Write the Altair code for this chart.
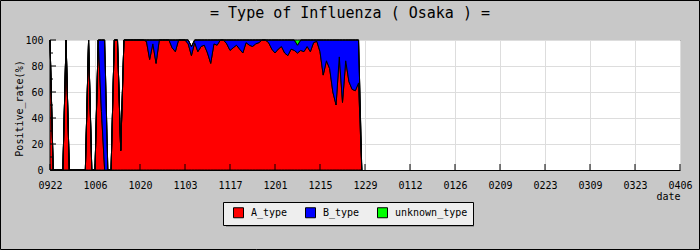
import json
import altair as alt
import pandas as pd

FONT = "DejaVu Sans Mono"

chart_title = "= Type of Influenza ( Osaka ) ="
type_names = ["A_type", "B_type", "unknown_type"]
type_colors = ["#ff0000", "#0000ff", "#00ff00"]

# x axis: day offset from 09/22, labelled every 14 days
tick_days = [0, 14, 28, 42, 56, 70, 84, 98, 112, 126, 140, 154, 168, 182, 196]
tick_labels = ["0922", "1006", "1020", "1103", "1117", "1201", "1215", "1229",
               "0112", "0126", "0209", "0223", "0309", "0323", "0406"]
y_major = [0, 20, 40, 60, 80, 100]
y_minor = [10, 30, 50, 70, 90]

# daily positive rates (%) from 09/22 to 12/28
a_type = [100, 0, 0, 0, 0, 100, 0, 0, 0, 0,
          0, 0, 100, 0, 0, 100, 45, 0, 0, 0,
          100, 100, 15, 100, 100, 100, 100, 100, 100, 100,
          99, 85, 97, 82, 100, 100, 100, 100, 94, 91,
          100, 100, 100, 97, 88, 98, 91, 95, 96, 90,
          82, 97, 96, 100, 100, 97, 92, 94, 96, 93,
          90, 98, 96, 95, 97, 98, 100, 100, 98, 93,
          90, 93, 95, 90, 88, 93, 92, 90, 92, 91,
          95, 91, 98, 99, 91, 73, 84, 78, 60, 50,
          87, 52, 84, 68, 62, 61, 67, 0]
b_type = [0, 0, 0, 0, 0, 0, 0, 0, 0, 0,
          0, 0, 0, 0, 0, 0, 55, 100, 0, 0,
          0, 0, 0, 0, 0, 0, 0, 0, 0, 0,
          1, 15, 3, 18, 0, 0, 0, 0, 6, 9,
          0, 0, 0, 3, 7, 2, 9, 5, 4, 10,
          18, 3, 4, 0, 0, 3, 8, 6, 4, 7,
          10, 2, 4, 5, 3, 2, 0, 0, 2, 7,
          10, 7, 5, 10, 12, 7, 8, 6, 8, 9,
          5, 9, 2, 1, 9, 27, 16, 22, 40, 50,
          13, 48, 16, 32, 38, 39, 33, 0]
unknown_type = [0] * 77 + [4] + [0] * 20

rows = []
for k, (name, series) in enumerate(zip(type_names, [a_type, b_type, unknown_type])):
    for d, v in enumerate(series):
        rows.append({"day": d, "type": name, "rate": v, "ord": k})
df = pd.DataFrame(rows)

x_scale = alt.Scale(domain=[tick_days[0], tick_days[-1]], nice=False, zero=False)
y_scale = alt.Scale(domain=[0, 100], nice=False)

label_expr = json.dumps(tick_labels) + "[round(datum.value / 14)]"

x_axis = alt.Axis(values=tick_days, labelExpr=label_expr, title="date",
                  ticks=False, grid=True, labelPadding=15,
                  labelBaseline="middle", labelFlush=False,
                  titleAnchor="end", titleAlign="right", titleX=630,
                  titleY=26, titleBaseline="middle")
y_axis = alt.Axis(values=y_major, title="Positive_rate(%)", ticks=False,
                  grid=True, labelPadding=7, titleX=-31, titleY=68,
                  titleAlign="center", titleBaseline="middle", labelFlush=False)

area = alt.Chart(df).mark_area(
    stroke="black", strokeWidth=1, interpolate="linear", opacity=1
).encode(
    x=alt.X("day:Q", scale=x_scale, axis=x_axis),
    y=alt.Y("rate:Q", stack="zero", scale=y_scale, axis=y_axis),
    color=alt.Color("type:N", scale=alt.Scale(domain=type_names, range=type_colors),
                    legend=alt.Legend(orient="none", legendX=173, legendY=162,
                                      direction="horizontal", title=None,
                                      symbolType="square", symbolSize=100,
                                      symbolStrokeColor="black", symbolStrokeWidth=1,
                                      symbolOpacity=1,
                                      fillColor="#eeeeee", strokeColor="black",
                                      padding=5, symbolOffset=5, labelOffset=7,
                                      columnPadding=12, labelFont=FONT,
                                      labelFontSize=10, labelColor="black")),
    order=alt.Order("ord:Q", sort="ascending"),
)

ymaj = alt.Chart(pd.DataFrame({"rate": y_major})).mark_rule(color="black").encode(
    y=alt.Y("rate:Q", scale=y_scale, axis=y_axis), x=alt.value(0), x2=alt.value(6))
ymin = alt.Chart(pd.DataFrame({"rate": y_minor})).mark_rule(color="black").encode(
    y=alt.Y("rate:Q", scale=y_scale, axis=y_axis), x=alt.value(0), x2=alt.value(3))
xmaj = alt.Chart(pd.DataFrame({"day": tick_days})).mark_rule(color="black").encode(
    x=alt.X("day:Q", scale=x_scale, axis=x_axis), y=alt.value(130), y2=alt.value(124))

one = alt.Data(values=[{"k": 1}])
shadow = alt.Chart(one).mark_rect(color="#999999").encode(
    x=alt.value(176), x2=alt.value(424), y=alt.value(165), y2=alt.value(187))
border = alt.Chart(one).mark_rect(fillOpacity=0, stroke="black", strokeWidth=1).encode(
    x=alt.value(-49.5), x2=alt.value(649.5), y=alt.value(-39.5), y2=alt.value(209.5))
title = alt.Chart(alt.Data(values=[{"t": chart_title}])).mark_text(
    font=FONT, fontSize=15, color="black", align="center", baseline="middle"
).encode(text="t:N", x=alt.value(300), y=alt.value(-27))

chart = alt.layer(shadow, area, ymaj, ymin, xmaj, border, title).properties(
    width=630, height=130,
    padding={"left": 50, "top": 40, "right": 20, "bottom": 80},
    autosize=alt.AutoSizeParams(type="none"),
    background="#c8c8c8",
).configure_view(
    fill="white", stroke="black", strokeWidth=1
).configure_axis(
    labelFont=FONT, labelFontSize=10, labelColor="black",
    titleFont=FONT, titleFontSize=10, titleColor="black", titleFontWeight="normal",
    domainColor="black", gridColor="#dddddd", gridWidth=1,
)

chart.save("out.html", embed_options={"renderer": "svg", "actions": False})
